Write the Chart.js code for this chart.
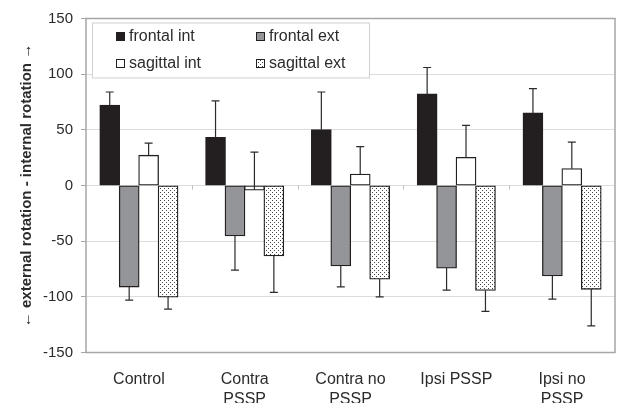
<!DOCTYPE html>
<html>
<head>
<meta charset="utf-8">
<script src="https://cdn.jsdelivr.net/npm/chart.js@4/dist/chart.umd.min.js"></script>
<style>
  html, body { margin: 0; padding: 0; background: #fff; }
  #wrap { width: 618px; height: 403px; }
</style>
</head>
<body>
<div id="wrap"><canvas id="rotChart" width="618" height="403"></canvas></div>
<script>
// categories on the x axis
var categories = ['Control', ['Contra', 'PSSP'], ['Contra no', 'PSSP'], 'Ipsi PSSP', ['Ipsi no', 'PSSP']];

// mean values per series
var frontalInt  = [72, 43, 50, 82, 65];
var frontalExt  = [-91, -45, -72, -74, -81];
var sagittalInt = [27, -4, 10, 25, 15];
var sagittalExt = [-100, -63, -84, -94, -93];

// one-sided error bars (size)
var frontalIntErr  = [12, 33, 34, 24, 22];
var frontalExtErr  = [12, 31, 19, 20, 21];
var sagittalIntErr = [11, 34, 25, 29, 24];
var sagittalExtErr = [11, 33, 16, 19, 33];

var yMin = -150, yMax = 150, yStep = 50;

// dotted fill for sagittal ext
function makeDots() {
  var c = document.createElement('canvas');
  c.width = 4; c.height = 4;
  var g = c.getContext('2d');
  g.fillStyle = '#fff';
  g.fillRect(0, 0, 4, 4);
  g.fillStyle = '#444';
  g.fillRect(0, 0, 1, 1);
  g.fillRect(2, 2, 1, 1);
  return g.createPattern(c, 'repeat');
}
var dots = makeDots();

var edge = '#231f20';

var chartData = {
  labels: categories,
  datasets: [
    { label: 'frontal int', data: frontalInt, err: frontalIntErr, dir: 1, backgroundColor: '#231f20' },
    { label: 'frontal ext', data: frontalExt, err: frontalExtErr, dir: -1, backgroundColor: '#939598' },
    { label: 'sagittal int', data: sagittalInt, err: sagittalIntErr, dir: 1, backgroundColor: '#ffffff' },
    { label: 'sagittal ext', data: sagittalExt, err: sagittalExtErr, dir: -1, backgroundColor: dots }
  ]
};
chartData.datasets.forEach(function (d) {
  d.borderColor = edge;
  d.borderWidth = 1.3;
  d.borderSkipped = false;
  d.inflateAmount = 0.6;
  d.barPercentage = 1.0;
  d.categoryPercentage = 0.735;
});

// frame, zero-line ticks, error bars and boxed legend
var extras = {
  id: 'extras',
  beforeDatasetsDraw: function (chart) {
    var ctx = chart.ctx, a = chart.chartArea;
    var ys = chart.scales.y;
    var y0 = ys.getPixelForValue(0);
    var step = (a.right - a.left) / categories.length;
    ctx.save();
    ctx.strokeStyle = '#bdbdbd';
    ctx.lineWidth = 1;
    for (var i = 1; i < categories.length; i++) {
      var x = Math.round(a.left + step * i) + 0.5;
      ctx.beginPath();
      ctx.moveTo(x, y0);
      ctx.lineTo(x, y0 + 4);
      ctx.stroke();
    }
    ctx.restore();
  },
  afterDatasetsDraw: function (chart) {
    var ctx = chart.ctx, ys = chart.scales.y;
    ctx.save();
    ctx.strokeStyle = '#2b2b2b';
    ctx.lineWidth = 1.2;
    chart.data.datasets.forEach(function (ds, i) {
      var meta = chart.getDatasetMeta(i);
      meta.data.forEach(function (bar, j) {
        var yA = ys.getPixelForValue(ds.data[j]);
        var yB = ys.getPixelForValue(ds.data[j] + ds.dir * ds.err[j]);
        ctx.beginPath();
        ctx.moveTo(bar.x, yA);
        ctx.lineTo(bar.x, yB);
        ctx.moveTo(bar.x - 4, yB);
        ctx.lineTo(bar.x + 4, yB);
        ctx.stroke();
      });
    });
    ctx.restore();
  },
  afterDraw: function (chart) {
    var ctx = chart.ctx, a = chart.chartArea;
    ctx.save();
    // plot frame
    ctx.strokeStyle = '#a6a6a6';
    ctx.lineWidth = 1.5;
    ctx.strokeRect(a.left, a.top, a.right - a.left, a.bottom - a.top);

    // legend box
    var bx = a.left + 6, by = a.top + 4, bw = 277, bh = 55;
    ctx.fillStyle = '#fff';
    ctx.fillRect(bx, by, bw, bh);
    ctx.strokeStyle = '#d0d0d0';
    ctx.lineWidth = 1;
    ctx.strokeRect(bx + 0.5, by + 0.5, bw, bh);
    ctx.font = '16px "Liberation Sans", Arial, sans-serif';
    ctx.textBaseline = 'middle';
    chart.data.datasets.forEach(function (ds, i) {
      var col = i % 2, row = Math.floor(i / 2);
      var ix = bx + 24 + col * 140;
      var iy = by + 14 + row * 27;
      ctx.fillStyle = ds.backgroundColor;
      ctx.fillRect(ix, iy - 4.5, 9, 9);
      ctx.strokeStyle = edge;
      ctx.lineWidth = 1;
      ctx.strokeRect(ix + 0.5, iy - 4, 8, 8);
      ctx.fillStyle = '#2b2b2b';
      ctx.fillText(ds.label, ix + 13, iy);
    });
    ctx.restore();
  }
};

var ctx = document.getElementById('rotChart').getContext('2d');
var rotChart = new Chart(ctx, {
  type: 'bar',
  data: chartData,
  plugins: [extras],
  options: {
    responsive: false,
    animation: false,
    layout: { padding: { top: 18.5, right: 3, bottom: 0, left: 0 } },
    plugins: {
      legend: { display: false },
      tooltip: { enabled: false }
    },
    scales: {
      x: {
        grid: { display: false, drawTicks: false },
        border: { display: false },
        ticks: {
          color: '#2b2b2b',
          padding: 17,
          maxRotation: 0,
          autoSkip: false,
          font: { family: '"Liberation Sans", Arial, sans-serif', size: 16, lineHeight: 1.25 }
        },
        afterFit: function (s) { s.height = 50.5; }
      },
      y: {
        min: yMin,
        max: yMax,
        ticks: {
          stepSize: yStep,
          color: '#2b2b2b',
          padding: 8,
          font: { family: '"Liberation Sans", Arial, sans-serif', size: 15 }
        },
        grid: {
          color: function (c) {
            if (c.tick && (c.tick.value === yMin || c.tick.value === yMax)) return 'rgba(0,0,0,0)';
            return '#dcdcdc';
          },
          tickColor: '#a6a6a6',
          tickLength: 5
        },
        border: { display: false },
        title: {
          display: true,
          text: '\u2190 external rotation - internal rotation \u2192',
          color: '#2b2b2b',
          padding: { top: 18, bottom: 0 },
          font: { family: '"Liberation Sans", Arial, sans-serif', size: 15, weight: 'bold' }
        },
        afterFit: function (s) { s.width = 86; }
      }
    }
  }
});
</script>
</body>
</html>
